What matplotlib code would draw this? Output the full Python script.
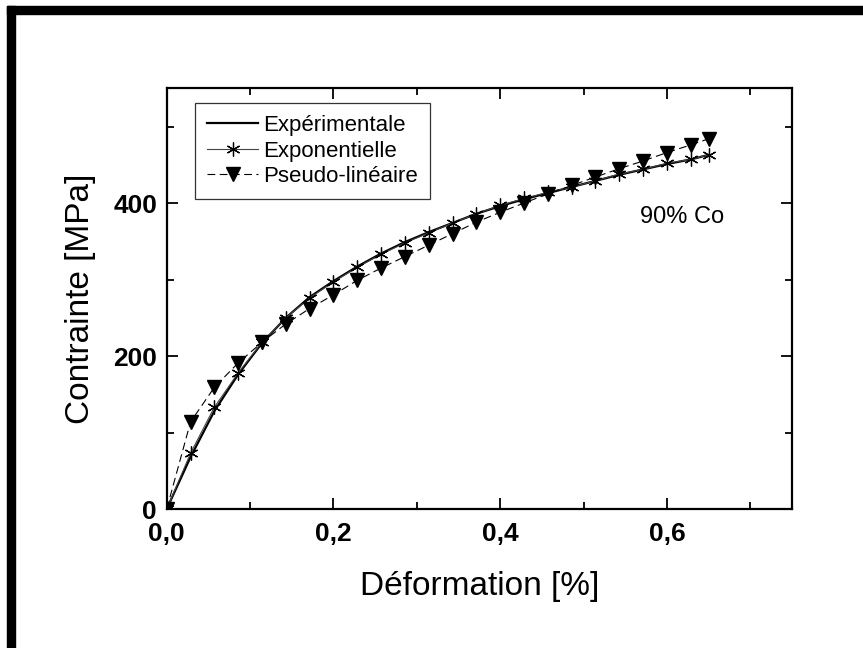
import numpy as np
import matplotlib
matplotlib.use("Agg")
from matplotlib import pyplot as plt
from matplotlib.patches import Rectangle
from matplotlib.ticker import MultipleLocator, FuncFormatter

plt.rcParams['font.family'] = ['Liberation Sans', 'DejaVu Sans']

# strain grid [%]: steps of 0.2/7 up to 0.6286, last point at 0.65
strain = [0.0, 0.0286, 0.0571, 0.0857, 0.1143, 0.1429, 0.1714, 0.2, 0.2286,
          0.2571, 0.2857, 0.3143, 0.3429, 0.3714, 0.4, 0.4286, 0.4571, 0.4857,
          0.5143, 0.5429, 0.5714, 0.6, 0.6286, 0.65]

# stress [MPa]
experimentale = [0, 68, 128, 176, 217, 250, 277, 298, 317, 334, 349, 362, 374,
                 386, 396, 405, 413, 421, 429, 437, 444, 451, 457, 463]
exponentielle = [0, 73, 133, 178, 218, 250, 276, 297, 316, 333, 348, 361, 374,
                 386, 397, 406, 414, 421, 429, 438, 444, 452, 457, 463]
pseudo_lineaire = [0, 114, 159, 191, 218, 242, 262, 280, 299, 315, 330, 345,
                   360, 375, 388, 400, 412, 423, 434, 445, 455, 466, 476, 484]

fig = plt.figure(figsize=(8.63, 6.48), dpi=100)
ax = fig.add_axes([0.1932, 0.2145, 0.7245, 0.6492])

ax.plot(strain, experimentale, color='black', lw=1.6, label='Expérimentale')
ax.plot(strain, exponentielle, color='#444444', lw=0.8,
        marker=(6, 2, 0), ms=10, mew=0.9, mec='black', label='Exponentielle')
ax.plot(strain, pseudo_lineaire, color='black', lw=0.8, ls=(0, (7, 4)),
        marker='v', ms=9.5, mfc='black', mec='black', label='Pseudo-linéaire')

ax.set_xlim(0, 0.75)
ax.set_ylim(0, 550)
ax.xaxis.set_major_locator(MultipleLocator(0.2))
ax.xaxis.set_minor_locator(MultipleLocator(0.1))
ax.yaxis.set_major_locator(MultipleLocator(200))
ax.yaxis.set_minor_locator(MultipleLocator(100))
ax.xaxis.set_major_formatter(FuncFormatter(lambda v, p: f"{v:.1f}".replace('.', ',')))
ax.yaxis.set_major_formatter(FuncFormatter(lambda v, p: f"{v:.0f}"))

ax.tick_params(which='both', direction='in', top=True, right=True, width=1.3)
ax.tick_params(which='major', length=8, labelsize=19)
ax.tick_params(axis='x', which='major', pad=9)
ax.tick_params(axis='y', which='major', pad=7)
ax.tick_params(which='minor', length=5)
for lab in ax.get_xticklabels() + ax.get_yticklabels():
    lab.set_fontweight('bold')
for sp in ax.spines.values():
    sp.set_linewidth(1.6)

ax.set_xlabel('Déformation [%]', fontsize=24, labelpad=18)
ax.set_ylabel('Contrainte [MPa]', fontsize=24, labelpad=12)

ax.text(0.568, 382, '90% Co', fontsize=17, va='center', ha='left')

leg = ax.legend(loc='upper left', bbox_to_anchor=(0.045, 0.965), fontsize=16,
                frameon=True, fancybox=False, edgecolor='black',
                handlelength=2.3, handletextpad=0.2, labelspacing=0.2,
                borderpad=0.55, borderaxespad=0)
leg.get_frame().set_linewidth(0.9)

# frame bars along the top and left edges
fig.patches.append(Rectangle((7 / 863, 0), 8 / 863, 1 - 6 / 648,
                             transform=fig.transFigure, color='black'))
fig.patches.append(Rectangle((7 / 863, 1 - 14 / 648), 1, 8 / 648,
                             transform=fig.transFigure, color='black'))

fig.savefig('out.png', dpi=100)
